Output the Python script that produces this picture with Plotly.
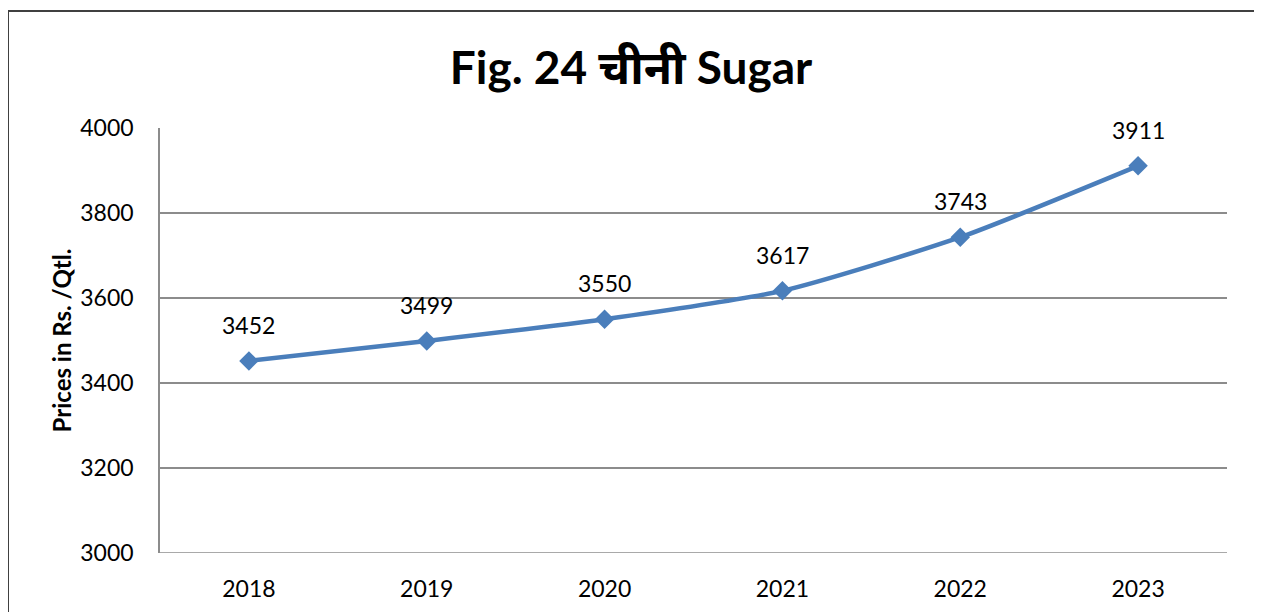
import plotly.graph_objects as go

years = ["2018", "2019", "2020", "2021", "2022", "2023"]
prices = [3452, 3499, 3550, 3617, 3743, 3911]
y_ticks = [3000, 3200, 3400, 3600, 3800, 4000]
title_text = "Fig. 24 चीनी Sugar"
y_title = "Prices in Rs. /Qtl."

# page body adds an 8px offset; compensate in margins
OFF = 8
W, H = 1262, 612
L, R, T, B = 160 - OFF, 35 + OFF, 128 - OFF, 59 + OFF
pw, ph = W - L - R, H - T - B

fig = go.Figure()
fig.add_trace(go.Scatter(
    x=list(range(len(years))), y=prices, mode="lines+markers",
    line=dict(color="#4A7EBB", width=4.5, shape="spline", smoothing=0.6),
    marker=dict(symbol="diamond", size=15, color="#4A7EBB"),
    hoverinfo="skip", showlegend=False,
))
for i, yv in enumerate(prices):
    fig.add_annotation(x=i, y=yv, text=str(yv), showarrow=False,
                       yshift=36, font=dict(family="Lato, Open Sans, sans-serif", size=23, color="#000000"))

# outer chart border (fig coords -> paper coords)
fx0, fx1, fy_top = 0, 1250, 3
fig.add_shape(type="rect", xref="paper", yref="paper",
              x0=(fx0 - L) / pw, x1=(fx1 - L) / pw,
              y0=-(H + 20 - T - ph) / ph, y1=(ph + T - fy_top) / ph,
              line=dict(color="#404040", width=2), fillcolor="rgba(0,0,0,0)", layer="below")

fig.update_layout(
    width=W, height=H,
    margin=dict(l=L, r=R, t=T, b=B),
    paper_bgcolor="white", plot_bgcolor="white",
    font=dict(family="Lato, Open Sans, sans-serif", color="#000000"),
    title=dict(text="<b>" + title_text + "</b>", x=(631 - OFF) / W, xanchor="center",
               y=1 - (68 - OFF) / H, yanchor="middle",
               font=dict(family="Lato, Noto Sans, sans-serif", size=46, color="#000000")),
    xaxis=dict(range=[-0.5, 5.5], showgrid=False,
               tickvals=list(range(len(years))), ticktext=years,
               showline=False, zeroline=False, ticks="",
               tickfont=dict(size=23), ticklabelstandoff=20),
    yaxis=dict(range=[3000, 4000], tickvals=y_ticks, showgrid=True,
               gridcolor="#8C8C8C", gridwidth=1.5, showline=True,
               linecolor="#8C8C8C", linewidth=1.5, zeroline=False, ticks="",
               tickfont=dict(size=23), ticklabelstandoff=20,
               title=dict(text="<b>" + y_title + "</b>", font=dict(size=24), standoff=2)),
)
fig.add_shape(type="line", xref="paper", yref="y", x0=0, x1=1, y0=3000, y1=3000,
              line=dict(color="#8C8C8C", width=1.5))
fig.write_html("out.html")
